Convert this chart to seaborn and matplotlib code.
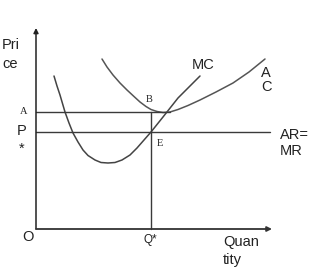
import matplotlib
matplotlib.use("Agg")
import matplotlib.pyplot as plt
import seaborn as sns
import pandas as pd

# Marginal cost curve (quantity, price)
mc_q = [1.8, 2.1, 2.4, 2.9, 3.3, 3.7, 4.2, 4.7, 5.2, 5.9, 6.5, 7.2, 7.9, 8.6, 9.4, 10.1, 10.8, 11.5, 12.1, 12.7, 14.2, 16.4]
mc_p = [15.3, 14.3, 13.4, 11.7, 10.6, 9.6, 8.7, 7.9, 7.35, 6.9, 6.65, 6.6, 6.65, 6.9, 7.4, 8.1, 8.9, 9.7, 10.45, 11.2, 13.1, 15.3]
# Average cost curve
ac_q = [6.6, 7.1, 7.7, 8.4, 9.1, 9.8, 10.4, 11.0, 11.5, 12.1, 12.7, 13.4, 14.2, 15.2, 16.4, 18.0, 19.7, 21.3, 22.9]
ac_p = [17.0, 16.2, 15.4, 14.6, 13.9, 13.25, 12.7, 12.25, 11.95, 11.75, 11.65, 11.7, 11.95, 12.35, 12.9, 13.7, 14.6, 15.7, 17.0]
# Key levels
q_star = 11.5
p_star = 9.7
a_level = 11.7
a_line_end = 13.4
p_line_end = 23.4
x_axis_end = 23.6
y_axis_end = 20.1

sns.set_style("white")
plt.rcParams['font.family'] = ['Liberation Sans', 'DejaVu Sans']

fig = plt.figure(figsize=(3.24, 2.72), dpi=100)
ax = fig.add_axes([0, 0, 1, 1])
ax.set_xlim(-3.6, 28.8)
ax.set_ylim(-4.3, 22.9)
ax.axis("off")

col = "#3a3a3a"
mc_df = pd.DataFrame({"q": mc_q, "p": mc_p})
ac_df = pd.DataFrame({"q": ac_q, "p": ac_p})
sns.lineplot(data=mc_df, x="q", y="p", sort=False, estimator=None, ax=ax, color="#444444", lw=1.1)
sns.lineplot(data=ac_df, x="q", y="p", sort=False, estimator=None, ax=ax, color="#555555", lw=1.1)

# horizontal / vertical guides
ax.plot([0, a_line_end], [a_level, a_level], color=col, lw=1.0)
ax.plot([0, p_line_end], [p_star, p_star], color=col, lw=1.0)
ax.plot([q_star, q_star], [0, a_level], color=col, lw=1.0)

# axes with arrows
ax.annotate("", xy=(0, y_axis_end), xytext=(0, 0),
            arrowprops=dict(arrowstyle="-|>", color="#222222", lw=1.1, mutation_scale=7, shrinkA=0, shrinkB=0))
ax.annotate("", xy=(x_axis_end, 0), xytext=(0, 0),
            arrowprops=dict(arrowstyle="-|>", color="#333333", lw=1.3, mutation_scale=7, shrinkA=0, shrinkB=0))

fs = 10.5
tc = "#222222"
ax.text(-3.4, 17.45, "Pri\nce", fontsize=fs, ha="left", va="center", color=tc, linespacing=1.45)
ax.text(-1.2, 11.8, "A", fontsize=7.5, family="Liberation Serif", ha="center", va="center", color=tc)
ax.text(-1.4, 8.9, "P\n*", fontsize=fs, ha="center", va="center", color=tc, linespacing=1.3)
ax.text(11.3, 13.0, "B", fontsize=7.5, family="Liberation Serif", ha="center", va="center", color=tc)
ax.text(12.4, 8.6, "E", fontsize=7.5, family="Liberation Serif", ha="center", va="center", color=tc)
ax.text(-0.8, -0.8, "O", fontsize=fs, ha="center", va="center", color=tc)
ax.text(11.4, -1.1, "Q*", fontsize=8.5, ha="center", va="center", color=tc)
ax.text(18.7, -2.2, "Quan\ntity", fontsize=fs, ha="left", va="center", color=tc, linespacing=1.35)
ax.text(16.7, 16.4, "MC", fontsize=fs, ha="center", va="center", color=tc)
ax.text(23.0, 14.9, "A\nC", fontsize=fs, ha="center", va="center", color=tc, linespacing=1.05)
ax.text(24.4, 8.6, "AR=\nMR", fontsize=fs, ha="left", va="center", color=tc, linespacing=1.25)

fig.savefig("out.png", dpi=100)
